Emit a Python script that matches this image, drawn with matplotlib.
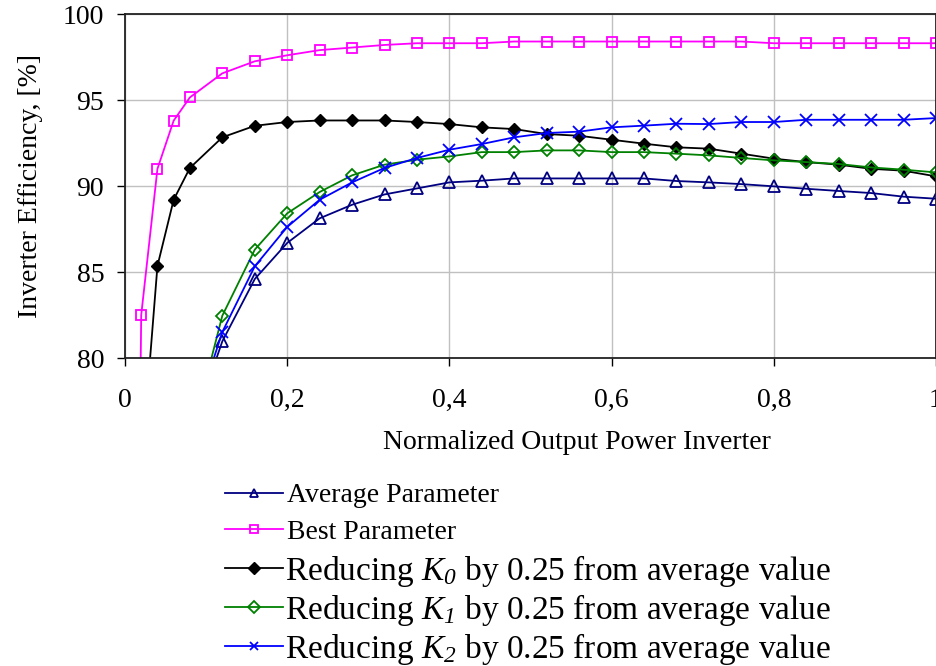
import matplotlib
matplotlib.use("Agg")
import matplotlib.pyplot as plt
import numpy as np
from matplotlib.ticker import FuncFormatter, MultipleLocator

plt.rcParams["font.family"] = ["Liberation Serif", "DejaVu Serif"]
plt.rcParams["mathtext.fontset"] = "custom"
plt.rcParams["mathtext.rm"] = "Liberation Serif"
plt.rcParams["mathtext.it"] = "Liberation Serif:italic"
# \mathcal -> itálico, p/ o índice numérico sair itálico como no original
plt.rcParams["mathtext.cal"] = "Liberation Serif:italic"

nan = np.nan

# potência normalizada (sem ponto em 0,10)
potencia = [0, 0.02, 0.04, 0.06, 0.08, 0.12, 0.16, 0.20, 0.24, 0.28, 0.32, 0.36,
            0.40, 0.44, 0.48, 0.52, 0.56, 0.60, 0.64, 0.68, 0.72, 0.76, 0.80,
            0.84, 0.88, 0.92, 0.96, 1.00]

media = [nan, nan, nan, nan, 75.5, 80.97, 84.59, 86.69, 88.12, 88.91, 89.51, 89.86,
         90.21, 90.31, 90.44, 90.44, 90.44, 90.44, 90.44, 90.29, 90.21, 90.11, 89.98,
         89.84, 89.71, 89.59, 89.38, 89.26]
melhor = [0, 82.5, 91.0, 93.8, 95.15, 96.55, 97.25, 97.6, 97.9, 98.05, 98.2, 98.3,
          98.3, 98.3, 98.4, 98.4, 98.4, 98.4, 98.4, 98.4, 98.4, 98.4, 98.3,
          98.3, 98.3, 98.3, 98.3, 98.3]
k0 = [0, 73.5, 85.35, 89.2, 91.05, 92.83, 93.5, 93.72, 93.81, 93.81, 93.81, 93.72,
      93.6, 93.41, 93.31, 93.02, 92.92, 92.69, 92.46, 92.25, 92.17, 91.88, 91.59,
      91.39, 91.24, 91.0, 90.89, 90.56]
k1 = [nan, nan, nan, nan, 75.1, 82.46, 86.3, 88.41, 89.65, 90.62, 91.24, 91.53,
      91.72, 91.97, 91.97, 92.07, 92.07, 91.97, 91.97, 91.88, 91.78, 91.63, 91.49,
      91.39, 91.28, 91.08, 90.95, 90.79]
k2 = [nan, nan, nan, nan, 75.7, 81.51, 85.33, 87.62, 89.2, 90.21, 91.05, 91.63,
      92.11, 92.44, 92.83, 93.08, 93.16, 93.41, 93.51, 93.62, 93.6, 93.72, 93.72,
      93.85, 93.85, 93.85, 93.85, 93.95]

rotulos = [
    "Average Parameter",
    "Best Parameter",
    r"Reducing $K_{\mathcal{0}}$ by 0.25 from average value",
    r"Reducing $K_{\mathcal{1}}$ by 0.25 from average value",
    r"Reducing $K_{\mathcal{2}}$ by 0.25 from average value",
]


def _fmt_x(v, pos):
    s = ("%.1f" % v).replace(".", ",")
    return s[0] if s in ("0,0", "1,0") else s


fig = plt.figure(figsize=(9.37, 6.66), dpi=100)
ax = fig.add_axes([125 / 937, 1 - 358 / 666, 811 / 937, 344 / 666])

lw = 1.3
l_med, = ax.plot(potencia, media, color="#000080", lw=lw, marker="^", ms=8.5,
                 mfc="none", mew=1.3, label=rotulos[0])
l_mel, = ax.plot(potencia, melhor, color="#ff00ff", lw=lw, marker="s", ms=7.5,
                 mfc="none", mew=1.3, label=rotulos[1])
l_k0, = ax.plot(potencia, k0, color="black", lw=lw, marker="D", ms=6.5,
                mfc="black", mew=1.0, label=rotulos[2])
l_k1, = ax.plot(potencia, k1, color="#008000", lw=lw, marker="D", ms=6.5,
                mfc="none", mew=1.3, label=rotulos[3])
l_k2, = ax.plot(potencia, k2, color="#0000ff", lw=lw, marker="x", ms=9,
                mew=1.3, label=rotulos[4])

ax.set_xlim(0, 1)
ax.set_ylim(80, 100)
ax.xaxis.set_major_locator(MultipleLocator(0.2))
ax.yaxis.set_major_locator(MultipleLocator(5))
ax.xaxis.set_major_formatter(FuncFormatter(_fmt_x))
ax.grid(True, color="#c0c0c0", lw=1.0)
ax.set_axisbelow(True)
ax.tick_params(direction="out", length=6, width=1, labelsize=20, pad=9)
ax.tick_params(axis="x", pad=15.5)
for s in ax.spines.values():
    s.set_linewidth(1.3)
    s.set_color("#222222")

ax.set_ylabel("Inverter Efficiency, [%]", fontsize=20, labelpad=14)
ax.set_xlabel("Normalized Output Power Inverter", fontsize=20)
ax.xaxis.set_label_coords(0.557, -0.21)

# legenda em dois blocos: as duas primeiras linhas têm fonte menor
leg_kw = dict(loc="upper left", bbox_transform=fig.transFigure, frameon=False,
              borderpad=0, borderaxespad=0)
leg1 = fig.legend(handles=[l_med, l_mel], bbox_to_anchor=(225 / 937, 1 - 483 / 666),
                  fontsize=20, handlelength=2.09, handletextpad=0.15,
                  labelspacing=0.4, **leg_kw)
leg2 = fig.legend(handles=[l_k0, l_k1, l_k2], bbox_to_anchor=(225 / 937, 1 - 553 / 666),
                  fontsize=24, handlelength=1.74, handletextpad=0.06,
                  labelspacing=0.085, **leg_kw)
for lg in (leg1, leg2):
    for h in lg.legend_handles:
        h.set_markersize(6)

fig.savefig("out.png", dpi=100)
